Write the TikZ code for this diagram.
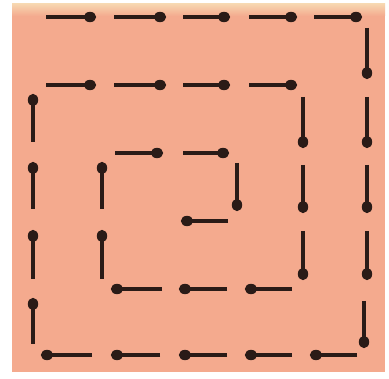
\documentclass[tikz,border=0pt]{standalone}
\definecolor{bgsalmon}{HTML}{F4AA8E}
\definecolor{bgcream}{HTML}{F7D6B0}
\definecolor{matchcol}{HTML}{2A1B17}
\tikzset{
  matchline/.style={draw=matchcol, line width=4.6pt},
  matchhead/.style={fill=matchcol},
}
\newcommand\hmatch[3]{% y, tail x, head x
  \draw[matchline] (#2,#1) -- (#3,#1);
  \fill[matchhead] ({#3+(#2-#3)/abs(#2-#3)*5},#1) ellipse (6.2 and 5.2);
}
\newcommand\vmatch[3]{% x, tail y, head y
  \draw[matchline] (#1,#2) -- (#1,#3);
  \fill[matchhead] (#1,{#3+(#2-#3)/abs(#2-#3)*5}) ellipse (5.2 and 6.2);
}
\begin{document}
\begin{tikzpicture}[x=1pt,y=-1pt]
\useasboundingbox (0,0) rectangle (389,379);
\fill[white] (0,0) rectangle (389,379);
\fill[bgsalmon] (12,4) rectangle (385,372);
\shade[top color=bgcream, bottom color=bgsalmon] (12,4) rectangle (385,16);
% outer top
\foreach \a/\b in {46/95,114/165,183/229,249/296,314/361} {\hmatch{17}{\a}{\b}}
% outer right
\foreach \a/\b in {28/78,97/147,165/212,231/279} {\vmatch{367}{\a}{\b}}
\vmatch{364}{301}{347}
% outer bottom
\foreach \a/\b in {357/311,292/246,227/180,160/112,92/42} {\hmatch{355}{\a}{\b}}
% outer left
\foreach \a/\b in {344/299,279/231,209/163,142/95} {\vmatch{33}{\a}{\b}}
% row 2
\foreach \a/\b in {46/95,114/165,183/229,249/296} {\hmatch{85}{\a}{\b}}
% right 2
\foreach \a/\b in {97/147,165/212,231/279} {\vmatch{303}{\a}{\b}}
% bottom 2
\foreach \a/\b in {292/246,227/180,162/112} {\hmatch{289}{\a}{\b}}
% left 2
\foreach \a/\b in {279/231,209/163} {\vmatch{102}{\a}{\b}}
% row 3
\foreach \a/\b in {115/162,183/228} {\hmatch{153}{\a}{\b}}
% right 3
\vmatch{237}{163}{210}
% row 4
\hmatch{221}{228}{182}
\end{tikzpicture}
\end{document}
